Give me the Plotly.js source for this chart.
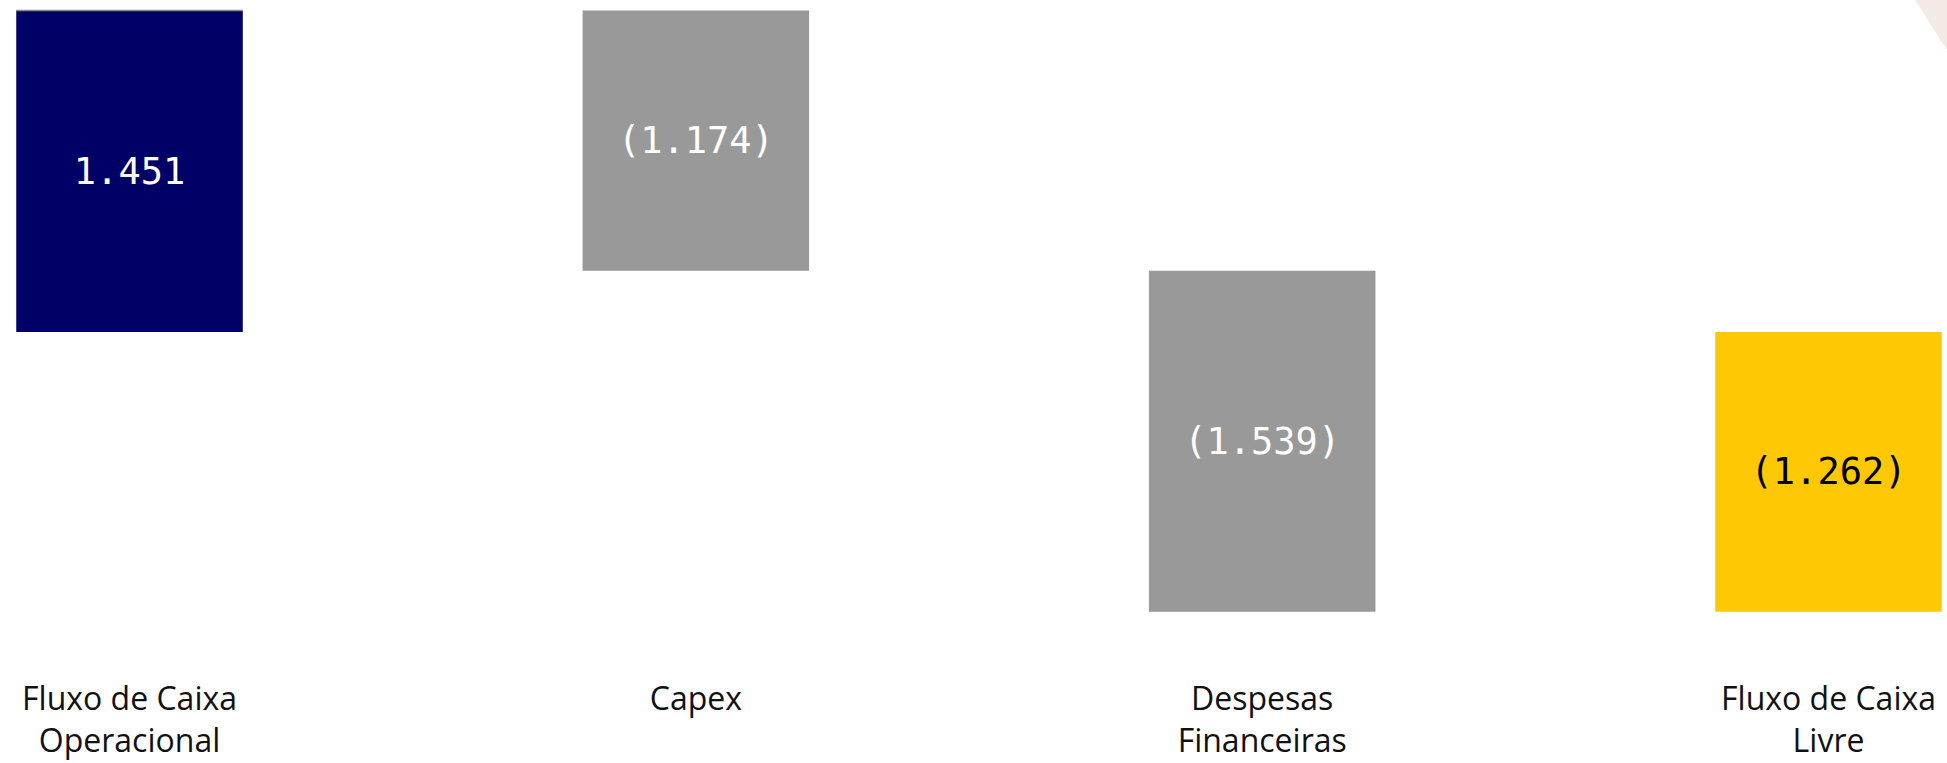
<!DOCTYPE html>
<html>
<head>
<meta charset="utf-8">
<script src="https://cdn.plot.ly/plotly-3.0.1.min.js"></script>
<style>
  html, body { margin: 0; padding: 0; background: #ffffff; }
  #chart { width: 1947px; height: 763px; }
</style>
</head>
<body>
<div id="chart"></div>
<script>
// ---- data ----
var categories = ["Fluxo de Caixa<br>Operacional", "Capex", "Despesas<br>Financeiras", "Fluxo de Caixa<br>Livre"];
var measures = ["relative", "relative", "relative", "total"];
var values = [1451, -1174, -1539, 0];
var valueLabels = ["1.451", "(1.174)", "(1.539)", "(1.262)"];
var labelColors = ["#ffffff", "#ffffff", "#ffffff", "#000000"];

var trace = {
  type: "waterfall",
  x: [0, 1, 2, 3],
  y: values,
  measure: measures,
  text: valueLabels,
  textposition: "inside",
  insidetextanchor: "middle",
  textangle: 0,
  textfont: { family: "DejaVu Sans Mono, Liberation Mono, monospace", size: 37, color: labelColors },
  constraintext: "none",
  width: 0.4,
  increasing: { marker: { color: "#000066", line: { width: 0 } } },
  decreasing: { marker: { color: "#999999", line: { width: 0 } } },
  totals: { marker: { color: "#FFC805", line: { width: 0 } } },
  connector: { visible: false },
  hoverinfo: "skip",
  cliponaxis: false
};

var layout = {
  width: 1947,
  height: 763,
  margin: { l: 0, r: 0, t: 0, b: 123, pad: 0 },
  paper_bgcolor: "#ffffff",
  plot_bgcolor: "#ffffff",
  showlegend: false,
  xaxis: {
    range: [-0.2287, 3.2092],
    tickmode: "array",
    tickvals: [0, 1, 2, 3],
    ticktext: categories,
    showgrid: false,
    zeroline: false,
    showline: false,
    ticks: "",
    tickfont: { family: "Open Sans, Noto Sans, sans-serif", size: 32, color: "#111111" },
    ticklabelstandoff: 37,
    fixedrange: true
  },
  yaxis: {
    range: [-1389.8, 1498.2],
    showgrid: false,
    zeroline: false,
    showline: false,
    showticklabels: false,
    ticks: "",
    fixedrange: true
  },
  shapes: [
    {
      type: "path",
      xref: "paper", yref: "paper",
      path: "M 0.98356 1 L 1 1 L 1 0.922 Z",
      fillcolor: "#F3EAE6",
      line: { width: 0 },
      layer: "below"
    },
    {
      type: "line",
      xref: "x", yref: "y",
      x0: 0 - 0.2, x1: 0 + 0.2,
      y0: values[0], y1: values[0],
      line: { color: "#8a8a8a", width: 1.5 },
      layer: "above"
    }
  ]
};

Plotly.newPlot("chart", [trace], layout, { displayModeBar: false, staticPlot: true });
</script>
</body>
</html>
